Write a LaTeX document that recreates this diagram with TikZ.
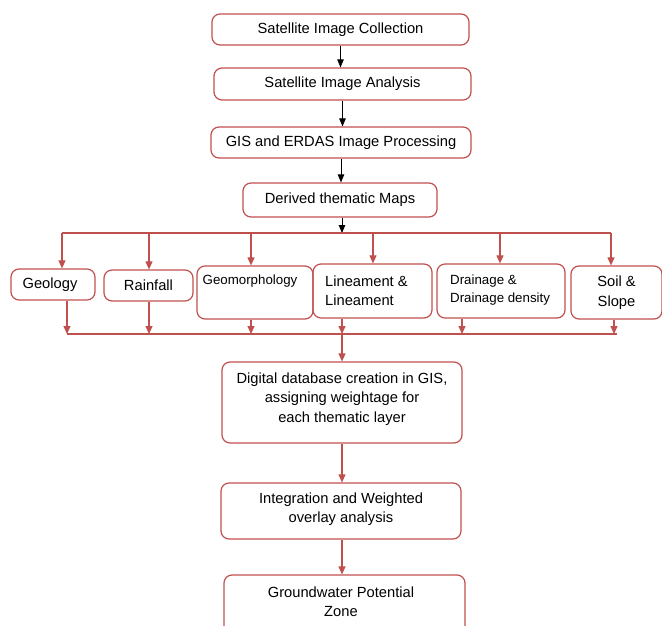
\documentclass[tikz,border=0pt]{standalone}
\usepackage{fontspec}
\setmainfont{Liberation Sans}
\usetikzlibrary{arrows.meta}
\definecolor{bred}{HTML}{C0504D}
\begin{document}
\begin{tikzpicture}[x=1pt,y=-1pt,
 box/.style={draw=bred, line width=1.2pt, rounded corners=8pt, inner sep=0pt},
 txt/.style={font=\fontsize{14.7}{19.5}\selectfont, inner sep=0pt, align=center},
 small/.style={font=\fontsize{13.3}{18}\selectfont, inner sep=0pt, align=left},
 rarr/.style={draw=bred, line width=1.1pt, -{Triangle[length=8pt,width=7pt]}},
 barr/.style={draw=black, line width=0.9pt, -{Triangle[length=8pt,width=6.5pt]}},
 rline/.style={draw=bred, line width=1.1pt}]
\useasboundingbox (0,0) rectangle (662,626);
% top chain
\node[box, txt, minimum width=257, minimum height=31] (b1) at (340.5,29.5) {Satellite Image Collection};
\node[box, txt, minimum width=257, minimum height=32] (b2) at (342.5,84) {Satellite Image Analysis};
\node[box, txt, minimum width=260, minimum height=31] (b3) at (341,142.5) {GIS and ERDAS Image Processing};
\node[box, txt, minimum width=194, minimum height=34] (b4) at (340,200) {Derived thematic Maps};
\draw[barr] (b1.south) -- (b1.south |- b2.north);
\draw[barr] (b2.south) -- (b2.south |- b3.north);
\draw[barr] (b3.south) -- (b3.south |- b4.north);
% top bus
\coordinate (tL) at (62,233);
\coordinate (tR) at (611,233);
\coordinate (tc) at (342,233);
\draw[barr] (b4.south -| tc) -- (tc);
\draw[rline] (tL) -- (tR);
% thematic boxes
\node[box, txt, minimum width=84, minimum height=31] (geo) at (53,284.5) {};
\node[txt] (geoT) at (50,284.5) {Geology};
\node[box, txt, minimum width=89, minimum height=31] (rain) at (148.5,285.5) {Rainfall};
\node[box, minimum width=116, minimum height=53] (gm) at (255,292.5) {};
\node[small] (gmT) at (250,281) {Geomorphology};
\node[box, minimum width=119, minimum height=54] (lin) at (372.5,291) {};
\node[txt, align=left, anchor=west] (linT) at (325,290.5) {Lineament \&\\Lineament};
\node[box, minimum width=128, minimum height=54] (dr) at (501,291) {};
\node[small, anchor=west] (drT) at (450,290) {Drainage \&\\Drainage density};
\node[box, txt, minimum width=91, minimum height=53] (soil) at (616.5,292.5) {Soil \&\\Slope};
% drops from top bus
\coordinate (d1) at (62,233);
\coordinate (d2) at (149,233);
\coordinate (d3) at (251,233);
\coordinate (d4) at (373,233);
\coordinate (d5) at (500,233);
\coordinate (d6) at (611,233);
\draw[rarr] (d1) -- (d1 |- geo.north);
\draw[rarr] (d2) -- (d2 |- rain.north);
\draw[rarr] (d3) -- (d3 |- gm.north);
\draw[rarr] (d4) -- (d4 |- lin.north);
\draw[rarr] (d5) -- (d5 |- dr.north);
\draw[rarr] (d6) -- (d6 |- soil.north);
% bottom bus
\coordinate (u1) at (67,334);
\coordinate (u2) at (149,334);
\coordinate (u3) at (251,334);
\coordinate (u4) at (342,334);
\coordinate (u5) at (462,334);
\coordinate (u6) at (614,334);
\draw[rline] (u1) -- (617,334);
\draw[rarr] (u1 |- geo.south) -- (u1);
\draw[rarr] (u2 |- rain.south) -- (u2);
\draw[rarr] (u3 |- gm.south) -- (u3);
\draw[rarr] (u4 |- lin.south) -- (u4);
\draw[rarr] (u5 |- dr.south) -- (u5);
\draw[rarr] (u6 |- soil.south) -- (u6);
% lower chain
\node[box, minimum width=240, minimum height=81] (db) at (342,402.5) {};
\node[txt] (dbT) at (342,399) {Digital database creation in GIS,\\assigning weightage for\\each thematic layer};
\node[box, minimum width=240, minimum height=56] (ia) at (341,511) {};
\node[txt] (iaT) at (341,509) {Integration and Weighted\\overlay analysis};
\node[box, minimum width=241, minimum height=70] (gw) at (344.5,610) {};
\node[txt] (gwT) at (341,601.5) {Groundwater Potential\\Zone};
\draw[rarr] (u4) -- (u4 |- db.north);
\draw[rarr] (db.south -| u4) -- (u4 |- ia.north);
\draw[rarr] (ia.south -| u4) -- (u4 |- gw.north);
\end{tikzpicture}
\end{document}
